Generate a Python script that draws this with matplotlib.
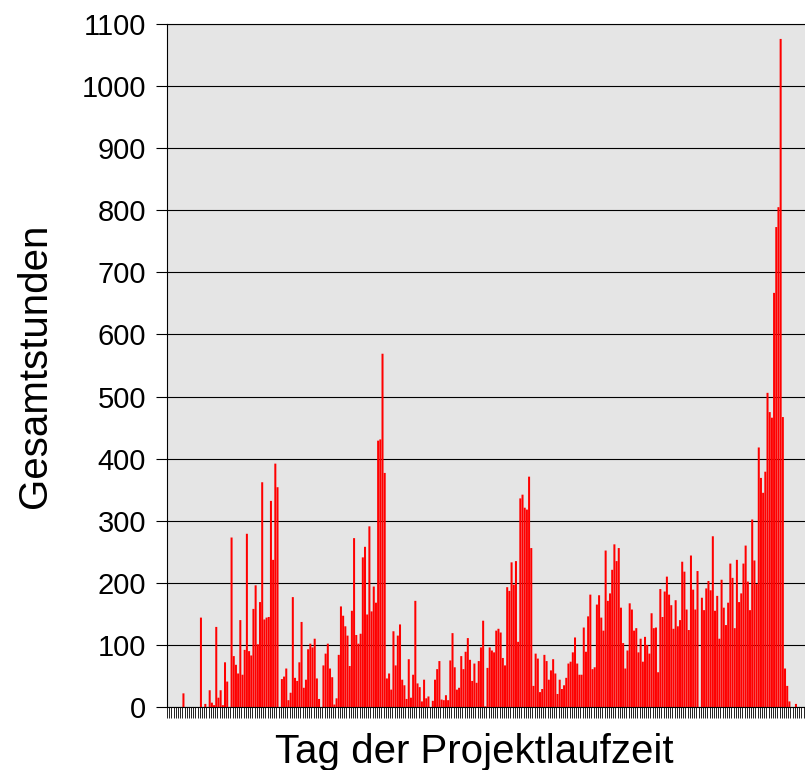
import matplotlib
matplotlib.use("Agg")
import matplotlib.pyplot as plt
import numpy as np

# Gesamtstunden pro Projekttag (292 days)
hours = [
    0, 0, 0, 0, 0, 0, 0, 22, 0, 0,
    0, 0, 0, 0, 0, 144, 0, 5, 0, 27,
    7, 3, 129, 15, 27, 3, 72, 41, 0, 273,
    82, 68, 54, 140, 52, 92, 279, 90, 83, 158,
    196, 101, 169, 362, 141, 144, 145, 332, 237, 392,
    354, 0, 45, 49, 62, 11, 23, 177, 47, 42,
    72, 137, 31, 44, 93, 102, 96, 110, 46, 13,
    0, 67, 86, 102, 62, 48, 4, 14, 84, 162,
    147, 130, 115, 66, 155, 272, 116, 102, 118, 241,
    258, 149, 291, 154, 194, 168, 429, 431, 569, 377,
    46, 54, 28, 122, 67, 115, 133, 44, 35, 13,
    77, 15, 52, 171, 38, 32, 9, 44, 14, 17,
    0, 10, 44, 61, 74, 12, 11, 19, 11, 75,
    119, 64, 28, 31, 82, 61, 89, 111, 76, 42,
    70, 39, 74, 96, 139, 1, 63, 96, 91, 88,
    123, 126, 120, 79, 67, 193, 187, 233, 197, 235,
    105, 336, 342, 321, 318, 371, 256, 34, 86, 78,
    24, 29, 84, 74, 44, 59, 77, 54, 21, 44,
    29, 35, 47, 70, 73, 88, 112, 70, 52, 52,
    128, 89, 146, 181, 61, 64, 165, 180, 144, 123,
    252, 171, 183, 221, 262, 235, 256, 160, 103, 62,
    91, 167, 157, 123, 127, 88, 110, 73, 113, 100,
    86, 151, 127, 128, 56, 190, 145, 186, 210, 181,
    164, 126, 172, 130, 140, 234, 218, 157, 124, 244,
    189, 157, 219, 0, 176, 156, 191, 203, 188, 275,
    155, 179, 110, 205, 160, 132, 168, 231, 208, 127,
    237, 169, 183, 231, 260, 202, 156, 302, 236, 198,
    418, 369, 345, 379, 506, 475, 466, 667, 773, 805,
    1076, 467, 62, 34, 9, 0, 0, 5, 0, 0,
    0, 0,
]
y_ticks = list(range(0, 1101, 100))
x_label = "Tag der Projektlaufzeit"
y_label = "Gesamtstunden"

plt.rcParams['font.family'] = ['Liberation Sans', 'DejaVu Sans']

days = np.arange(len(hours))

fig = plt.figure(figsize=(8.05, 7.7), dpi=100)
ax = fig.add_axes([0.2075, 0.0818, 0.7935, 0.887])
ax.set_facecolor('#e5e5e5')

# snap off so every thin bar gets the same (anti-aliased) width
ax.bar(days, hours, width=0.92, color='#ff0000', linewidth=0, zorder=2, snap=False)

# Axes limits and ticks
ax.set_xlim(-0.5, len(hours) - 0.5)
ax.set_ylim(0, 1100)
ax.set_yticks(y_ticks)
ax.tick_params(axis='y', labelsize=21, length=8, width=0.8, direction='out', pad=7)
ax.set_xticks([])
ax.set_xticks(np.arange(len(hours) + 1) - 0.5, minor=True)
ax.tick_params(axis='x', which='minor', length=8, width=0.6, direction='out')

# Horizontal gridlines
ax.yaxis.grid(True, color='black', linewidth=0.8)
ax.set_axisbelow(True)

ax.spines['right'].set_visible(False)
for side in ['left', 'bottom', 'top']:
    ax.spines[side].set_linewidth(0.8)

ax.set_xlabel(x_label, fontsize=29)
ax.xaxis.set_label_coords(0.481, -0.038, transform=ax.transAxes)
ax.xaxis.label.set_verticalalignment('top')
ax.set_ylabel(y_label, fontsize=29, labelpad=20)

plt.savefig('out.png', dpi=100)
plt.close(fig)
